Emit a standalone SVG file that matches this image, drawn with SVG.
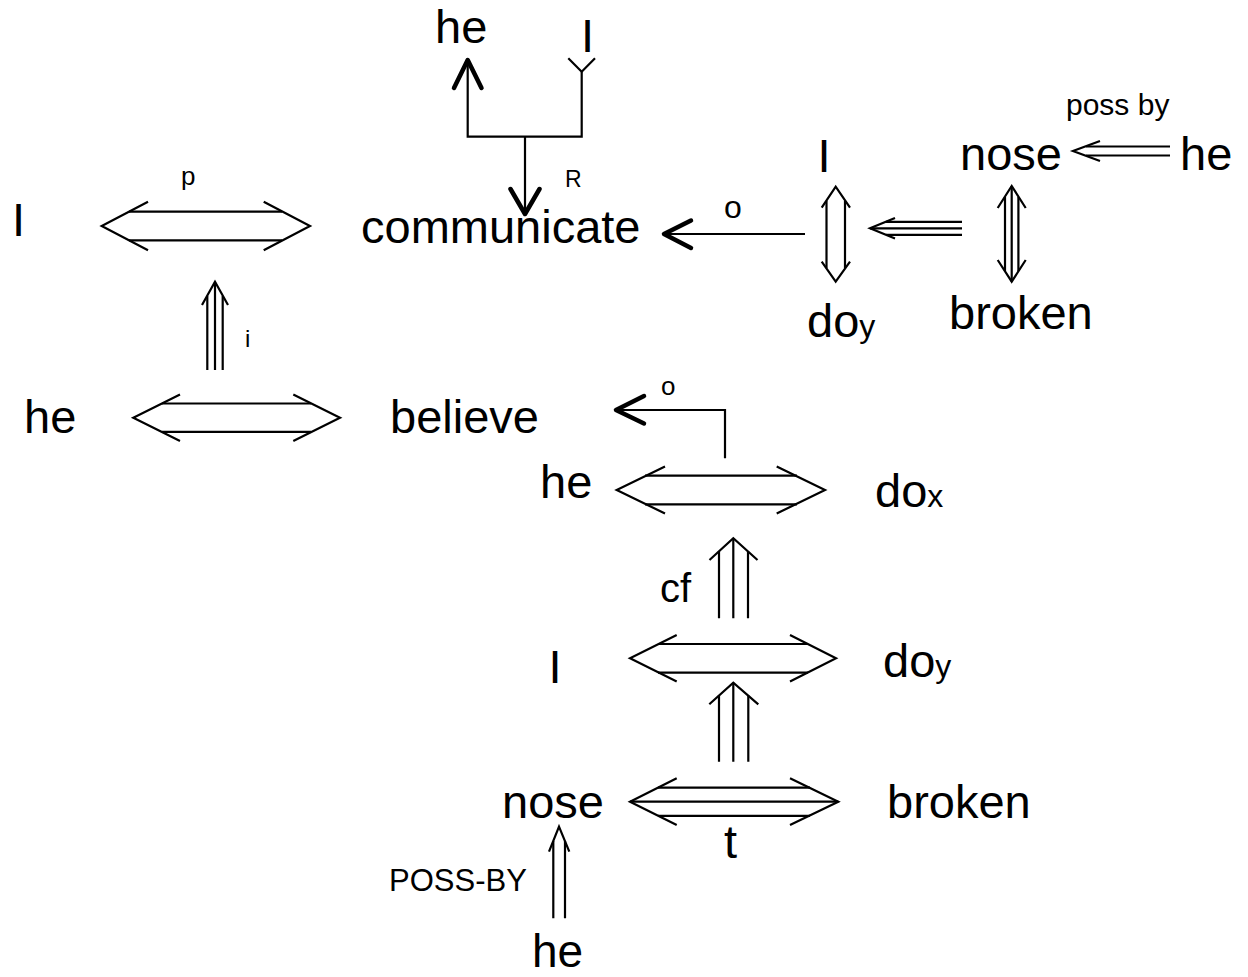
<svg xmlns="http://www.w3.org/2000/svg" width="1248" height="977" viewBox="0 0 1248 977">
<style>
text{font-family:"Liberation Sans",Arial,sans-serif;fill:#000}
.n{font-size:47px}
.s{font-size:30px}
.sub{font-size:32px}
.ln{fill:none;stroke:#000;stroke-width:2.2;stroke-linecap:butt}
.hd{fill:none;stroke:#000;stroke-width:2.2;stroke-linejoin:miter}
.tk{fill:none;stroke:#000;stroke-width:4.5;stroke-linecap:round;stroke-linejoin:round}
</style>
<rect width="1248" height="977" fill="#fff"/>
<g id="connectors">
  <!-- top fork -->
  <path class="ln" d="M467.7,136.7V60 M581.7,136.7V71.7 M466.6,136.7H582.8 M525,136.7V214"/>
  <path class="tk" d="M454,88 L467.7,60 L481.5,88"/>
  <path class="hd" d="M568.3,58.3 L581.7,71.7 L595,58.3"/>
  <path class="tk" d="M510.5,189 L525,214 L539.5,189"/>
  <!-- o arrow to communicate -->
  <path class="ln" d="M665,234H805"/>
  <path class="tk" d="M691,220.5 L664,234 L691,248"/>
  <!-- I / do_y vertical double -->
  <path class="hd" d="M821.7,207.7 L835.7,186.7 L850,207.7 M821.7,261.7 L835.7,281.7 L850,261.7"/>
  <path class="ln" d="M826.5,201V268 M845,201V268"/>
  <!-- triple left arrow -->
  <path class="hd" d="M895,218 L870,228.3 L895,238.6"/>
  <path class="ln" d="M886,221.8H962 M870,228.3H962 M886,234.8H962"/>
  <!-- nose / broken vertical triple -->
  <path class="hd" d="M997.7,208 L1011.7,186 L1025.7,208 M997.7,260 L1011.7,281.7 L1025.7,260"/>
  <path class="ln" d="M1005,197V271 M1011.7,186V281.7 M1018.4,197V271"/>
  <!-- poss by -->
  <path class="hd" d="M1100,141 L1073,151 L1100,161"/>
  <path class="ln" d="M1086,146.5H1170 M1086,155.5H1170"/>
  <!-- I p communicate -->
  <path class="hd" d="M148,201.7 L101.7,226 L148,250.3 M263.7,201.7 L310,226 L263.7,250.3"/>
  <path class="ln" d="M129,211.7H282 M129,240.3H282"/>
  <!-- i arrow -->
  <path class="hd" d="M202,305 L215,281.7 L228,305"/>
  <path class="ln" d="M207.3,296V370 M215,281.7V370 M222.7,296V370"/>
  <!-- he believe -->
  <path class="hd" d="M180,394.4 L133.3,417.7 L180,441 M293.3,394.4 L340,417.7 L293.3,441"/>
  <path class="ln" d="M162,403.5H311 M162,431.9H311"/>
  <!-- o arrow to believe -->
  <path class="ln" d="M617,410H725V458.3"/>
  <path class="tk" d="M644,396 L616,410 L644,423.5"/>
  <!-- he do_x -->
  <path class="hd" d="M665,466.5 L616.7,490 L665,513.5 M776.7,466.5 L825,490 L776.7,513.5"/>
  <path class="ln" d="M645,475.6H797 M645,504.4H797"/>
  <!-- cf arrow -->
  <path class="hd" d="M709.5,560 L733.3,538.3 L757.5,560"/>
  <path class="ln" d="M719,551V618.3 M733.3,538.3V618.3 M748,551V618.3"/>
  <!-- I do_y -->
  <path class="hd" d="M676.7,635 L630,658.3 L676.7,681.6 M790,635 L836,658.3 L790,681.6"/>
  <path class="ln" d="M658,644H808 M658,672.6H808"/>
  <!-- lower triple -->
  <path class="hd" d="M709.3,704.3 L733.3,682.7 L758.3,704.3"/>
  <path class="ln" d="M719,695.5V761.7 M733.3,682.7V761.7 M748.3,695.5V761.7"/>
  <!-- nose broken triple -->
  <path class="hd" d="M676.7,778.3 L630,801.7 L676.7,825 M790,778.3 L838.3,801.7 L790,825"/>
  <path class="ln" d="M658,787.7H810 M630,801.7H838.3 M658,815.9H810"/>
  <!-- POSS-BY -->
  <path class="hd" d="M549,851.7 L559,826.7 L569.3,851.7"/>
  <path class="ln" d="M553.3,841V918.3 M565,841V918.3"/>
</g>
<g id="n-he-top"><text class="n" x="435" y="43">he</text></g>
<g id="n-I-top"><text class="n" x="581" y="52">I</text></g>
<g id="l-R"><text x="565" y="186.7" style="font-size:23px">R</text></g>
<g id="n-communicate"><text class="n" x="361" y="243">communicate</text></g>
<g id="l-o1"><text x="724" y="218" style="font-size:32px">o</text></g>
<g id="n-I-r"><text class="n" x="817.4" y="171.7">I</text></g>
<g id="n-doy-r"><text class="n" x="807" y="336.7">do<tspan class="sub">y</tspan></text></g>
<g id="n-nose-r"><text class="n" x="960" y="170">nose</text></g>
<g id="l-possby"><text class="s" x="1066" y="115">poss by</text></g>
<g id="n-he-r"><text class="n" x="1180" y="170">he</text></g>
<g id="n-broken-r"><text class="n" x="949" y="329">broken</text></g>
<g id="n-I-left"><text class="n" x="12" y="236">I</text></g>
<g id="l-p"><text x="181" y="185" style="font-size:26px">p</text></g>
<g id="l-i"><text x="245" y="346.7" style="font-size:24px">i</text></g>
<g id="n-he-left"><text class="n" x="24" y="433">he</text></g>
<g id="n-believe"><text class="n" x="390" y="433">believe</text></g>
<g id="l-o2"><text x="661" y="395" style="font-size:26px">o</text></g>
<g id="n-he-mid"><text class="n" x="540" y="498">he</text></g>
<g id="n-dox"><text class="n" x="875" y="506.7">do<tspan class="sub">x</tspan></text></g>
<g id="l-cf"><text x="660" y="601.7" style="font-size:40px">cf</text></g>
<g id="n-I-bottom"><text class="n" x="548.4" y="683.3">I</text></g>
<g id="n-doy-bottom"><text class="n" x="883" y="676.7">do<tspan class="sub">y</tspan></text></g>
<g id="n-nose-bottom"><text class="n" x="502" y="818">nose</text></g>
<g id="n-broken-bottom"><text class="n" x="887" y="818">broken</text></g>
<g id="l-t"><text class="n" x="724" y="858">t</text></g>
<g id="l-POSSBY"><text x="389" y="890.7" style="font-size:31px">POSS-BY</text></g>
<g id="n-he-bottom"><text x="532" y="967" style="font-size:46px">he</text></g>
</svg>
